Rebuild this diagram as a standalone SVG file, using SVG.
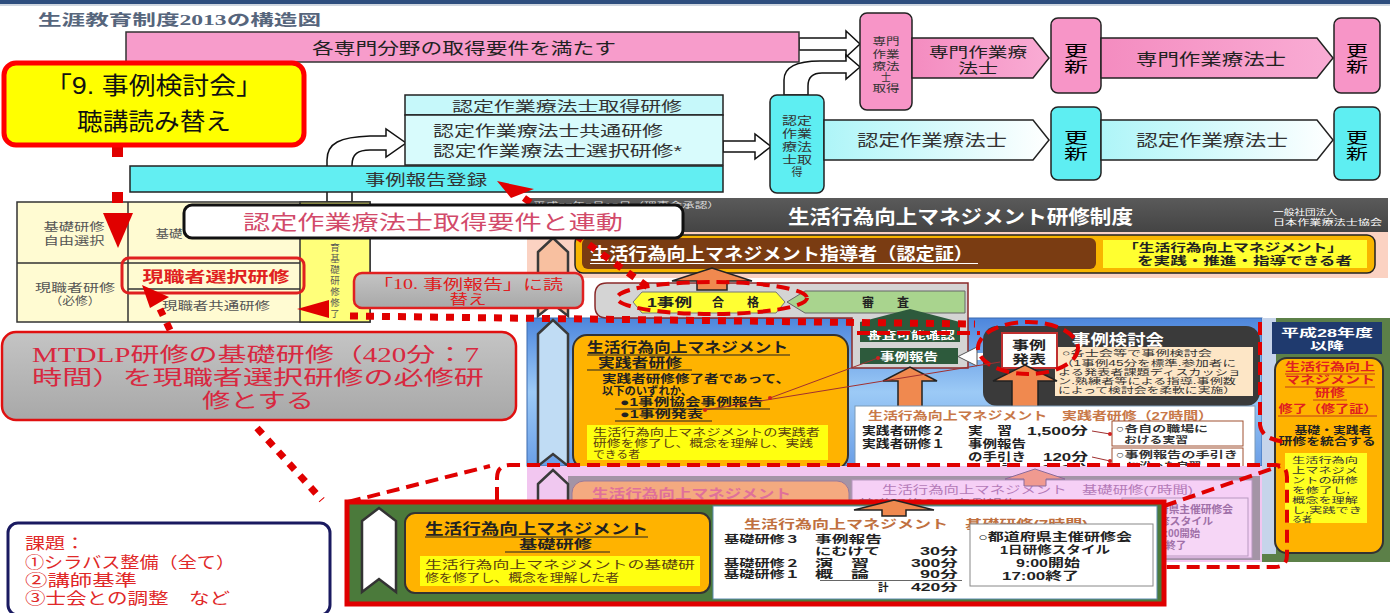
<svg xmlns="http://www.w3.org/2000/svg" width="1390" height="613" viewBox="0 0 1390 613">
<defs>
<style>
text{font-family:"Liberation Sans","Noto Sans CJK JP",sans-serif}
.b{font-weight:bold}
.sf{font-family:"Liberation Serif","Noto Sans CJK JP",serif}
.m{text-anchor:middle}
.e{text-anchor:end}
.pk{fill:#f795c7;stroke:#222;stroke-width:1.5}
.cy{fill:#5eeef2;stroke:#222;stroke-width:1.5}
.wa{fill:#fff;stroke:#111;stroke-width:1.5}
.dots{fill:none;stroke:#e00000;stroke-width:7;stroke-dasharray:8 8}
.dash{fill:none;stroke:#e00000;stroke-width:4;stroke-dasharray:13 7}
.org{fill:#ffb300;stroke:#333;stroke-width:2}
.ua{fill:#f0894f;stroke:#222;stroke-width:1.5}
.rib{stroke:#3a3a3a;stroke-width:2.5}
</style>
<linearGradient id="cyg" x1="0" x2="1" y1="0" y2="0"><stop offset="0" stop-color="#aef5f8"/><stop offset="1" stop-color="#ffffff"/></linearGradient>
<linearGradient id="pkg" x1="0" x2="1" y1="0" y2="0"><stop offset="0" stop-color="#f48cc0"/><stop offset="1" stop-color="#f9acd4"/></linearGradient>
<linearGradient id="blueg" x1="0" y1="0" x2="0" y2="1"><stop offset="0" stop-color="#4d86dc"/><stop offset="0.5" stop-color="#9ccaf6"/><stop offset="1" stop-color="#6a9ee6"/></linearGradient>
<linearGradient id="grayg" x1="0" y1="0" x2="0" y2="1"><stop offset="0" stop-color="#c4c4c4"/><stop offset="1" stop-color="#a8a8a8"/></linearGradient>
<linearGradient id="hdg" x1="0" y1="0" x2="0" y2="1"><stop offset="0" stop-color="#5a5a5a"/><stop offset="1" stop-color="#444"/></linearGradient>
</defs>
<rect width="1390" height="613" fill="#fff"/>

<g id="title">
<rect x="0" y="0" width="1390" height="4" fill="#2e4e7e"/>
<rect x="0" y="4" width="1390" height="2" fill="#cfd6e0"/>
<text x="38" y="25" font-size="15" class="sf b" fill="#56657c" textLength="283" lengthAdjust="spacingAndGlyphs">生涯教育制度2013の構造図</text>
</g>

<g id="connectors">
<path class="wa" d="M327 202 V160 C327 143 340 137 370 136 H386 V129 L406 143 L386 157 V150 H370 C358 150 352 154 352 165 V202 Z"/>
<path class="wa" d="M799 38 H846 V31 L860 44 L846 57 V50 H799 Z"/>
<path class="wa" d="M784 95 V80 C784 66 800 61 820 61 H846 V55 L860 67 L846 79 V73 H822 C812 73 808 78 808 86 V95 Z"/>
<path class="wa" d="M723 141 H755 V134 L771 146.5 L755 159 V152 H723 Z"/>
</g>

<g id="pink-bar">
<rect x="126" y="32" width="673" height="30" fill="#f79ccb" stroke="#333" stroke-width="1.5"/>
<text x="312" y="54" font-size="16" fill="#222" textLength="304" lengthAdjust="spacingAndGlyphs">各専門分野の取得要件を満たす</text>
</g>

<g id="senmon-shutoku">
<rect x="860" y="13" width="52" height="97" rx="7" class="pk"/>
<g font-size="10" fill="#333" class="m">
<text x="886" y="45" textLength="27" lengthAdjust="spacingAndGlyphs">専門</text>
<text x="886" y="58" textLength="27" lengthAdjust="spacingAndGlyphs">作業</text>
<text x="886" y="70" textLength="27" lengthAdjust="spacingAndGlyphs">療法</text>
<text x="886" y="81">士</text>
<text x="886" y="92" textLength="27" lengthAdjust="spacingAndGlyphs">取得</text>
</g>
</g>
<g id="senmon-1">
<polygon points="912,38 1033,38 1049,58 1033,78 912,78" fill="url(#pkg)" stroke="#222" stroke-width="1.5"/>
<text x="978" y="57" font-size="14" class="m" fill="#222" textLength="98" lengthAdjust="spacingAndGlyphs">専門作業療</text>
<text x="978" y="73" font-size="14" class="m" fill="#222" textLength="40" lengthAdjust="spacingAndGlyphs">法士</text>
</g>
<g id="koshin-p1">
<rect x="1051" y="18" width="50" height="75" rx="7" class="pk"/>
<text x="1076" y="56" font-size="15" class="m" textLength="24" lengthAdjust="spacingAndGlyphs">更</text>
<text x="1076" y="72" font-size="15" class="m" textLength="24" lengthAdjust="spacingAndGlyphs">新</text>
</g>
<g id="senmon-2">
<polygon points="1101,38 1317,38 1333,58 1317,78 1101,78" fill="url(#pkg)" stroke="#222" stroke-width="1.5"/>
<text x="1211" y="65" font-size="16" class="m" fill="#222" textLength="150" lengthAdjust="spacingAndGlyphs">専門作業療法士</text>
</g>
<g id="koshin-p2">
<rect x="1334" y="18" width="46" height="75" rx="7" class="pk"/>
<text x="1357" y="56" font-size="15" class="m" textLength="22" lengthAdjust="spacingAndGlyphs">更</text>
<text x="1357" y="72" font-size="15" class="m" textLength="22" lengthAdjust="spacingAndGlyphs">新</text>
</g>

<g id="nintei-shutoku">
<rect x="770" y="95" width="54" height="98" rx="7" class="cy"/>
<g font-size="11" fill="#333" class="m">
<text x="797" y="125" textLength="30" lengthAdjust="spacingAndGlyphs">認定</text>
<text x="797" y="138" textLength="30" lengthAdjust="spacingAndGlyphs">作業</text>
<text x="797" y="151" textLength="30" lengthAdjust="spacingAndGlyphs">療法</text>
<text x="797" y="164" textLength="30" lengthAdjust="spacingAndGlyphs">士取</text>
<text x="797" y="176">得</text>
</g>
</g>
<g id="nintei-1">
<polygon points="824,120 1033,120 1049,140 1033,160 824,160" fill="url(#cyg)" stroke="#222" stroke-width="1.5"/>
<text x="857" y="146" font-size="16" fill="#333" textLength="150" lengthAdjust="spacingAndGlyphs">認定作業療法士</text>
</g>
<g id="koshin-c1">
<rect x="1051" y="107" width="50" height="73" rx="7" class="cy"/>
<text x="1076" y="143" font-size="15" class="m" textLength="24" lengthAdjust="spacingAndGlyphs">更</text>
<text x="1076" y="159" font-size="15" class="m" textLength="24" lengthAdjust="spacingAndGlyphs">新</text>
</g>
<g id="nintei-2">
<polygon points="1101,120 1317,120 1333,140 1317,160 1101,160" fill="url(#cyg)" stroke="#222" stroke-width="1.5"/>
<text x="1136" y="146" font-size="16" fill="#333" textLength="152" lengthAdjust="spacingAndGlyphs">認定作業療法士</text>
</g>
<g id="koshin-c2">
<rect x="1334" y="107" width="46" height="73" rx="7" class="cy"/>
<text x="1357" y="143" font-size="15" class="m" textLength="22" lengthAdjust="spacingAndGlyphs">更</text>
<text x="1357" y="159" font-size="15" class="m" textLength="22" lengthAdjust="spacingAndGlyphs">新</text>
</g>

<g id="nintei-kenshu">
<rect x="405" y="95" width="318" height="20" fill="#c6f8fa" stroke="#222" stroke-width="1.5"/>
<rect x="405" y="115" width="318" height="50" fill="#d8fbfc" stroke="#222" stroke-width="1.5"/>
<text x="452" y="111" font-size="14" fill="#333" textLength="230" lengthAdjust="spacingAndGlyphs">認定作業療法士取得研修</text>
<text x="433" y="136" font-size="15" fill="#333" textLength="230" lengthAdjust="spacingAndGlyphs">認定作業療法士共通研修</text>
<text x="433" y="156" font-size="15" fill="#333" textLength="249" lengthAdjust="spacingAndGlyphs">認定作業療法士選択研修*</text>
</g>
<g id="jirei-toroku">
<rect x="130" y="166" width="593" height="26" fill="#62eef2" stroke="#222" stroke-width="1.5"/>
<text x="365" y="185" font-size="15" fill="#333" textLength="122" lengthAdjust="spacingAndGlyphs">事例報告登録</text>
</g>

<g id="mtdlp-header">
<rect x="527" y="198" width="861" height="34" fill="url(#hdg)"/>
<text x="533" y="208" font-size="8" fill="#ddd" textLength="187" lengthAdjust="spacingAndGlyphs">平成27年3月19日（理事会承認）</text>
<text x="788" y="224" font-size="19" class="b" fill="#fff" textLength="345" lengthAdjust="spacingAndGlyphs">生活行為向上マネジメント研修制度</text>
<text x="1273" y="215" font-size="8" fill="#fff" textLength="64" lengthAdjust="spacingAndGlyphs">一般社団法人</text>
<text x="1273" y="225" font-size="8" fill="#fff" textLength="109" lengthAdjust="spacingAndGlyphs">日本作業療法士協会</text>
</g>
<g id="shidosha">
<rect x="527" y="232" width="861" height="46" fill="#fbd2c2"/>
<rect x="575" y="235" width="800" height="38" rx="8" fill="#f8b500" stroke="#222" stroke-width="1.5"/>
<rect x="582" y="238" width="514" height="31" rx="6" fill="#7a3c12"/>
<text x="590" y="260" font-size="17" class="b" fill="#fff" textLength="383" lengthAdjust="spacingAndGlyphs">生活行為向上マネジメント指導者（認定証）</text>
<line x1="590" y1="263.5" x2="978" y2="263.5" stroke="#fff" stroke-width="1"/>
<rect x="1103" y="240" width="264" height="28" fill="#ffff30"/>
<text x="1123" y="252" font-size="11.5" class="b" fill="#222" textLength="220" lengthAdjust="spacingAndGlyphs">「生活行為向上マネジメント」</text>
<text x="1137" y="265" font-size="11.5" class="b" fill="#222" textLength="215" lengthAdjust="spacingAndGlyphs">を実践・推進・指導できる者</text>
</g>
<rect x="527" y="278" width="861" height="40" fill="#fff"/>
<g id="ribbons">
<path class="rib" fill="#f8c0a0" d="M538 252 L553 238 L568 252 V316 L553 304 L538 316 Z"/>
</g>

<g id="jissen-section">
<rect x="527" y="318" width="735" height="148" fill="url(#blueg)" stroke="#3a6ab0" stroke-width="1"/>
<path class="rib" fill="#c0dcf4" d="M538 334 L553 320 L568 334 V466 L553 454 L538 466 Z"/>
<rect x="573" y="335" width="275" height="134" rx="14" class="org"/>
<text x="587" y="352" font-size="14" class="b" fill="#222" textLength="201" lengthAdjust="spacingAndGlyphs">生活行為向上マネジメント</text>
<line x1="587" y1="355" x2="790" y2="355" stroke="#222" stroke-width="1.2"/>
<text x="598" y="367" font-size="13" class="b" fill="#222" textLength="84" lengthAdjust="spacingAndGlyphs">実践者研修</text>
<line x1="587" y1="370" x2="692" y2="370" stroke="#222" stroke-width="1.2"/>
<text x="602" y="383" font-size="11" class="b" fill="#222" textLength="188" lengthAdjust="spacingAndGlyphs">実践者研修修了者であって、</text>
<text x="602" y="395" font-size="11" class="b" fill="#222" textLength="90" lengthAdjust="spacingAndGlyphs">以下のいずれか、</text>
<text x="620" y="406" font-size="11" class="b" fill="#222" textLength="143" lengthAdjust="spacingAndGlyphs">●1事例協会事例報告</text>
<line x1="615" y1="409" x2="770" y2="409" stroke="#222" stroke-width="1"/>
<text x="620" y="418" font-size="11" class="b" fill="#222" textLength="83" lengthAdjust="spacingAndGlyphs">●1事例発表</text>
<line x1="615" y1="421" x2="712" y2="421" stroke="#222" stroke-width="1"/>
<rect x="587" y="425" width="241" height="35" fill="#ffff10"/>
<text x="593" y="436" font-size="10" fill="#5a4010" textLength="227" lengthAdjust="spacingAndGlyphs">生活行為向上マネジメントの実践者</text>
<text x="593" y="447" font-size="10" fill="#5a4010" textLength="220" lengthAdjust="spacingAndGlyphs">研修を修了し、概念を理解し、実践</text>
<text x="593" y="458" font-size="10" fill="#5a4010" textLength="47" lengthAdjust="spacingAndGlyphs">できる者</text>
</g>

<g id="shinsa">
<path d="M607 283 H968 V368 H852 V318 H607 Q595 318 595 306 V295 Q595 283 607 283 Z" fill="#d4d4d4" stroke="#8a2a2a" stroke-width="1.5"/>
<polygon points="633,302 642,292 776,292 785,302 776,313 642,313" fill="#ffff33" stroke="#777"/>
<text x="647" y="307" font-size="12" class="b" fill="#222" textLength="45" lengthAdjust="spacingAndGlyphs">1事例</text>
<text x="712" y="307" font-size="12" class="b" fill="#222">合</text>
<text x="747" y="307" font-size="12" class="b" fill="#222">格</text>
<polygon points="787,302 805,291 965,291 965,313 805,313" fill="#a9d48e" stroke="#666"/>
<text x="862" y="307" font-size="12" class="b" fill="#222">審</text>
<text x="897" y="307" font-size="12" class="b" fill="#222">査</text>
<polygon points="860,322 910,309 960,322 960,342 860,342" fill="#2d5a3c"/>
<text x="867" y="339" font-size="10" class="b" fill="#fff" textLength="88" lengthAdjust="spacingAndGlyphs">審査可能確認</text>
<rect x="860" y="348" width="98" height="16" fill="#2d5a3c"/>
<text x="880" y="361" font-size="11" class="b" fill="#fff" textLength="58" lengthAdjust="spacingAndGlyphs">事例報告</text>
<rect x="975" y="353" width="20" height="7" fill="#fff"/>
<polygon points="958,356.5 977,347 977,366" fill="#fff" stroke="#555"/>
</g>

<g id="jirei-kentokai">
<rect x="983" y="326" width="277" height="80" rx="14" fill="#3a3a3a"/>
<text x="1072" y="345" font-size="15" class="b" fill="#fff" textLength="92" lengthAdjust="spacingAndGlyphs">事例検討会</text>
<rect x="1055" y="347" width="198" height="49" fill="#fde6c6"/>
<g font-size="8.5" fill="#333">
<text x="1062" y="356" textLength="150" lengthAdjust="spacingAndGlyphs">○各士会等で事例検討会</text>
<text x="1060" y="365.5" textLength="176" lengthAdjust="spacingAndGlyphs">（1事例45分を標準.参加者に</text>
<text x="1058" y="375" textLength="183" lengthAdjust="spacingAndGlyphs">よる発表者課題ディスカッショ</text>
<text x="1058" y="384" textLength="178" lengthAdjust="spacingAndGlyphs">ン.熟練者等による指導.事例数</text>
<text x="1058" y="393" textLength="178" lengthAdjust="spacingAndGlyphs">によって検討会を柔軟に実施）</text>
</g>
<rect x="1002" y="333" width="55" height="35" fill="#fff" stroke="#c03030" stroke-width="2"/>
<text x="1029" y="350" font-size="12.5" class="b m" fill="#222" textLength="34" lengthAdjust="spacingAndGlyphs">事例</text>
<text x="1029" y="364" font-size="12.5" class="b m" fill="#222" textLength="34" lengthAdjust="spacingAndGlyphs">発表</text>
</g>

<g id="up-arrows">
<polygon class="ua" points="898,408 898,381 883,381 910,367 937,381 922,381 922,408"/>
<polygon class="ua" points="1012,407 1012,381 993,381 1025,365 1057,381 1038,381 1038,407"/>
<polygon class="ua" points="697,290 697,281 672,281 712,268 752,281 727,281 727,290"/>
</g>

<g id="jissen-27h">
<rect x="855" y="406" width="400" height="66" fill="#fff" stroke="#7a9ab8"/>
<text x="868" y="420" font-size="11.5" class="b" fill="#c87848" textLength="345" lengthAdjust="spacingAndGlyphs">生活行為向上マネジメント　実践者研修（27時間）</text>
<g font-size="11" class="b" fill="#222">
<text x="862" y="435" textLength="83" lengthAdjust="spacingAndGlyphs">実践者研修２</text>
<text x="968" y="435" textLength="44" lengthAdjust="spacingAndGlyphs">実　習</text>
<text x="1088" y="435" class="e" textLength="61" lengthAdjust="spacingAndGlyphs">1,500分</text>
<text x="862" y="448" textLength="83" lengthAdjust="spacingAndGlyphs">実践者研修１</text>
<text x="968" y="448" textLength="58" lengthAdjust="spacingAndGlyphs">事例報告</text>
<text x="968" y="461" textLength="58" lengthAdjust="spacingAndGlyphs">の手引き</text>
<text x="1088" y="461" class="e" textLength="45" lengthAdjust="spacingAndGlyphs">120分</text>
<text x="1002" y="473">計</text>
<text x="1088" y="473" class="e" textLength="61" lengthAdjust="spacingAndGlyphs">1,620分</text>
</g>
<rect x="1112" y="421" width="131" height="25" fill="#fff" stroke="#a05030"/>
<rect x="1112" y="448" width="131" height="24" fill="#fff" stroke="#a05030"/>
<g font-size="9.5" class="b" fill="#333">
<text x="1116" y="432" textLength="92" lengthAdjust="spacingAndGlyphs">○各自の職場に</text>
<text x="1124" y="443" textLength="64" lengthAdjust="spacingAndGlyphs">おける実習</text>
<text x="1116" y="458" textLength="122" lengthAdjust="spacingAndGlyphs">○事例報告の手引き</text>
<text x="1127" y="469" textLength="74" lengthAdjust="spacingAndGlyphs">に沿った自習</text>
</g>
<path d="M1092 431 L1110 434 M1092 457 L1110 461" stroke="#a03030" fill="none"/>
<circle cx="1110" cy="434" r="2" fill="#d02020"/><circle cx="1110" cy="461" r="2" fill="#d02020"/>
</g>

<g id="h28">
<rect x="1262" y="318" width="128" height="244" fill="#5c8048"/>
<rect x="1262" y="318" width="14" height="236" fill="#c6d4ea"/>
<rect x="1272" y="322" width="110" height="32" fill="#1f3a6e"/>
<text x="1327" y="337" font-size="11" class="b m" fill="#fff" textLength="92" lengthAdjust="spacingAndGlyphs">平成28年度</text>
<text x="1327" y="350" font-size="11" class="b m" fill="#fff" textLength="34" lengthAdjust="spacingAndGlyphs">以降</text>
<rect x="1275" y="358" width="108" height="195" rx="12" class="org"/>
<g class="b m" fill="#e02020" font-size="11">
<text x="1330" y="371" textLength="90" lengthAdjust="spacingAndGlyphs">生活行為向上</text>
<text x="1330" y="384" textLength="90" lengthAdjust="spacingAndGlyphs">マネジメント</text>
<text x="1330" y="397" textLength="30" lengthAdjust="spacingAndGlyphs">研修</text>
<text x="1328" y="413" textLength="99" lengthAdjust="spacingAndGlyphs">修了（修了証）</text>
</g>
<path d="M1285 374 H1375 M1285 387 H1375 M1313 400 H1347 M1278 416 H1377" stroke="#b02020" stroke-width="0.8"/>
<text x="1333" y="434" font-size="10" class="b m" fill="#222" textLength="77" lengthAdjust="spacingAndGlyphs">基礎・実践者</text>
<text x="1327" y="445" font-size="10" class="b m" fill="#222" textLength="97" lengthAdjust="spacingAndGlyphs">研修を統合する</text>
<rect x="1285" y="453" width="82" height="70" fill="#ffff20"/>
<g font-size="8.5" fill="#333">
<text x="1292" y="463" textLength="66" lengthAdjust="spacingAndGlyphs">生活行為向</text>
<text x="1292" y="473" textLength="66" lengthAdjust="spacingAndGlyphs">上マネジメ</text>
<text x="1292" y="483" textLength="66" lengthAdjust="spacingAndGlyphs">ントの研修</text>
<text x="1292" y="493" textLength="58" lengthAdjust="spacingAndGlyphs">を修了し,</text>
<text x="1292" y="503" textLength="66" lengthAdjust="spacingAndGlyphs">概念を理解</text>
<text x="1292" y="513" textLength="70" lengthAdjust="spacingAndGlyphs">し,実践でき</text>
<text x="1292" y="522" textLength="20" lengthAdjust="spacingAndGlyphs">る者</text>
</g>
</g>

<g id="kiso-original">
<rect x="527" y="466" width="735" height="96" fill="#f2c6f0"/>
<rect x="568" y="476" width="692" height="84" fill="#a494a6"/>
<path class="rib" fill="#f0c8f0" d="M538 484 L553 470 L568 484 V560 L553 548 L538 560 Z"/>
<rect x="572" y="481" width="277" height="80" rx="12" fill="#f4aa80" stroke="#9a7a9a"/>
<text x="592" y="498" font-size="13" class="b" fill="#e0709a" textLength="199" lengthAdjust="spacingAndGlyphs">生活行為向上マネジメント</text>
<rect x="852" y="480" width="400" height="78" fill="#f6d0f6" stroke="#b898c0"/>
<text x="882" y="494" font-size="11" fill="#b47ab8" textLength="311" lengthAdjust="spacingAndGlyphs">生活行為向上マネジメント　基礎研修(7時間)</text>
<text x="858" y="508" font-size="11" fill="#a070a0" textLength="160" lengthAdjust="spacingAndGlyphs">基礎研修３　事例報告</text>
<rect x="1122" y="498" width="126" height="58" fill="#f6d6f6" stroke="#b898c0"/>
<g font-size="10" fill="#a070a8" class="b">
<text x="1130" y="513" textLength="103" lengthAdjust="spacingAndGlyphs">○都道府県主催研修会</text>
<text x="1131" y="525" textLength="82" lengthAdjust="spacingAndGlyphs">1日研修スタイル</text>
<text x="1159" y="537" textLength="41" lengthAdjust="spacingAndGlyphs">9:00開始</text>
<text x="1140" y="549" textLength="46" lengthAdjust="spacingAndGlyphs">17:00終了</text>
</g>
<polygon points="1024,486 1024,479 1005,479 1035,469 1065,479 1046,479 1046,486" fill="#f09a90" stroke="#8a6a9a"/>
</g>

<g id="kiso-enlarged">
<rect x="347" y="502" width="817" height="102" fill="#4b7a3b" stroke="#e00000" stroke-width="5"/>
<path fill="#fff" stroke="#333" stroke-width="2.5" d="M362 521 L379 508 L396 521 V592 L379 579 L362 592 Z"/>
<rect x="405" y="513" width="305" height="80" rx="10" class="org"/>
<text x="425" y="534" font-size="14.5" class="b" fill="#222" textLength="223" lengthAdjust="spacingAndGlyphs">生活行為向上マネジメント</text>
<line x1="425" y1="537" x2="648" y2="537" stroke="#222" stroke-width="1.2"/>
<text x="519" y="549" font-size="12.5" class="b" fill="#222" textLength="73" lengthAdjust="spacingAndGlyphs">基礎研修</text>
<line x1="505" y1="552" x2="610" y2="552" stroke="#222" stroke-width="1.2"/>
<rect x="420" y="556" width="280" height="30" fill="#ffff10"/>
<text x="425" y="569" font-size="11.5" fill="#5a4010" textLength="270" lengthAdjust="spacingAndGlyphs">生活行為向上マネジメントの基礎研</text>
<text x="425" y="582" font-size="11.5" fill="#5a4010" textLength="194" lengthAdjust="spacingAndGlyphs">修を修了し、概念を理解した者</text>
<rect x="713" y="506" width="444" height="93" fill="#fff" stroke="#5a8ab0"/>
<text x="744" y="529" font-size="12" fill="#c07040" class="b" textLength="344" lengthAdjust="spacingAndGlyphs">生活行為向上マネジメント　基礎研修(7時間)</text>
<g font-size="10.5" class="b" fill="#222">
<text x="724" y="543" textLength="76" lengthAdjust="spacingAndGlyphs">基礎研修３</text>
<text x="815" y="543" textLength="67" lengthAdjust="spacingAndGlyphs">事例報告</text>
<text x="815" y="555" textLength="65" lengthAdjust="spacingAndGlyphs">にむけて</text>
<text x="958" y="555" class="e" textLength="38" lengthAdjust="spacingAndGlyphs">30分</text>
<text x="724" y="567" textLength="76" lengthAdjust="spacingAndGlyphs">基礎研修２</text>
<text x="815" y="567" textLength="54" lengthAdjust="spacingAndGlyphs">演　習</text>
<text x="958" y="567" class="e" textLength="47" lengthAdjust="spacingAndGlyphs">300分</text>
<text x="724" y="578" textLength="76" lengthAdjust="spacingAndGlyphs">基礎研修１</text>
<text x="815" y="578" textLength="54" lengthAdjust="spacingAndGlyphs">概　論</text>
<text x="958" y="578" class="e" textLength="38" lengthAdjust="spacingAndGlyphs">90分</text>
<text x="878" y="591">計</text>
<text x="958" y="591" class="e" textLength="47" lengthAdjust="spacingAndGlyphs">420分</text>
</g>
<line x1="820" y1="580.5" x2="962" y2="580.5" stroke="#666" stroke-width="1"/>
<rect x="970" y="524" width="183" height="62" fill="#fff" stroke="#888"/>
<g font-size="11" class="b" fill="#222">
<text x="978" y="541" textLength="154" lengthAdjust="spacingAndGlyphs">○都道府県主催研修会</text>
<text x="1000" y="554" textLength="110" lengthAdjust="spacingAndGlyphs">1日研修スタイル</text>
<text x="1016" y="567" textLength="64" lengthAdjust="spacingAndGlyphs">9:00開始</text>
<text x="1002" y="580" textLength="77" lengthAdjust="spacingAndGlyphs">17:00終了</text>
</g>
<polygon class="ua" points="882,516 882,510 854,510 894,500 934,510 906,510 906,516"/>
</g>

<g id="red-dashes">
<path class="dash" d="M497 500 V478 Q497 465 510 465 H1275 Q1287 465 1287 477 V555 Q1287 567 1275 567 H1165"/>
<path class="dash" d="M348 502 L490 466"/>
<path class="dash" d="M1164 506 L1280 466"/>
<path class="dash" d="M1260 322 V425 Q1262 440 1287 442"/>
<path class="dash" d="M857 333 H980"/>
<ellipse cx="1028" cy="348" rx="50" ry="26" class="dash"/>
<ellipse cx="712" cy="298" rx="95" ry="16" class="dash"/>
</g>

<g id="jissen-links">
<path d="M770 398 L878 358 M705 410 L1000 362" stroke="#a03030" stroke-width="1" fill="none"/>
<circle cx="770" cy="398" r="2" fill="#d02020"/><circle cx="705" cy="410" r="2" fill="#d02020"/><circle cx="878" cy="358" r="2" fill="#d02020"/>
</g>

<g id="kiso-table">
<rect x="17" y="202" width="353" height="120" fill="#fffbd2" stroke="#333" stroke-width="1.5"/>
<rect x="300" y="202" width="70" height="120" fill="#ffff7a" stroke="#333" stroke-width="1.5"/>
<path d="M128 202 V322 M17 263 H300 M128 289 H300" stroke="#333" stroke-width="1.5" fill="none"/>
<g font-size="11" fill="#555" class="m">
<text x="74" y="231" textLength="61" lengthAdjust="spacingAndGlyphs">基礎研修</text>
<text x="74" y="245" textLength="61" lengthAdjust="spacingAndGlyphs">自由選択</text>
<text x="75" y="292" textLength="80" lengthAdjust="spacingAndGlyphs">現職者研修</text>
<text x="75" y="305" textLength="51" lengthAdjust="spacingAndGlyphs">（必修）</text>
<text x="169" y="238" textLength="27" lengthAdjust="spacingAndGlyphs">基礎</text>
<text x="216" y="310" textLength="108" lengthAdjust="spacingAndGlyphs">現職者共通研修</text>
</g>
<text x="216" y="282" font-size="15" class="b m" fill="#e02020" textLength="147" lengthAdjust="spacingAndGlyphs">現職者選択研修</text>
<g font-size="9.5" fill="#555" class="m">
<text x="335" y="251">育</text><text x="335" y="262">基</text><text x="335" y="273">礎</text><text x="335" y="284">研</text><text x="335" y="295">修</text><text x="335" y="306">修</text><text x="335" y="317">了</text>
</g>
<rect x="122" y="258" width="182" height="35" rx="7" fill="none" stroke="#e02020" stroke-width="3"/>
</g>

<g id="red-links">
<path class="dots" d="M350 316 L975 324"/>
<path class="dots" d="M524 198 L648 287"/>
<path class="dots" d="M257 428 L322 500"/>
<path class="dots" d="M170 330 L160 309"/>
<rect x="112" y="147" width="11" height="10" fill="#e00000"/>
<rect x="112" y="192" width="11" height="11" fill="#e00000"/>
<polygon points="103,213 133,213 118,248" fill="#e00000"/>
<polygon points="142,285 169,297 150,308" fill="#e00000"/>
<polygon points="297,309 329,300 329,318" fill="#e00000"/>
<polygon points="497,181 534,189 511,198" fill="#e00000"/>
</g>

<g id="callout-9">
<rect x="4" y="63" width="300" height="82" rx="12" fill="#ffff00" stroke="#ff0000" stroke-width="5"/>
<text x="154" y="94" font-size="24" class="m" fill="#111" textLength="218" lengthAdjust="spacingAndGlyphs">「9. 事例検討会」</text>
<text x="154" y="130" font-size="24" class="m" fill="#111" textLength="154" lengthAdjust="spacingAndGlyphs">聴講読み替え</text>
</g>

<g id="callout-rendo">
<rect x="184" y="205" width="499" height="33" rx="8" fill="#fff" stroke="#111" stroke-width="3"/>
<text x="243" y="230" font-size="20" fill="#d24a6a" textLength="380" lengthAdjust="spacingAndGlyphs">認定作業療法士取得要件と連動</text>
</g>

<g id="callout-10">
<rect x="354" y="273" width="229" height="35" rx="8" fill="url(#grayg)" stroke="#e02020" stroke-width="2.5"/>
<text x="373" y="289" font-size="14" class="sf" fill="#e02020" textLength="190" lengthAdjust="spacingAndGlyphs">「10. 事例報告」に読</text>
<text x="468" y="304" font-size="14" class="sf m" fill="#e02020" textLength="37" lengthAdjust="spacingAndGlyphs">替え</text>
</g>

<g id="callout-mtdlp">
<rect x="2" y="332" width="514" height="88" rx="14" fill="url(#grayg)" stroke="#e01010" stroke-width="2.5"/>
<text x="32" y="362" font-size="20" class="sf" fill="#d82840" textLength="447" lengthAdjust="spacingAndGlyphs">MTDLP研修の基礎研修（420分：7</text>
<text x="32" y="385" font-size="20" class="sf" fill="#d82840" textLength="452" lengthAdjust="spacingAndGlyphs">時間）を現職者選択研修の必修研</text>
<text x="202" y="408" font-size="20" class="sf" fill="#d82840" textLength="112" lengthAdjust="spacingAndGlyphs">修とする</text>
</g>

<g id="kadai">
<rect x="8" y="523" width="322" height="92" rx="10" fill="#fff" stroke="#1a1a60" stroke-width="3"/>
<g font-size="16" class="sf" fill="#e02828">
<text x="25" y="549" textLength="60" lengthAdjust="spacingAndGlyphs">課題：</text>
<text x="25" y="568" textLength="210" lengthAdjust="spacingAndGlyphs">①シラバス整備（全て）</text>
<text x="25" y="586" textLength="112" lengthAdjust="spacingAndGlyphs">②講師基準</text>
<text x="25" y="604" textLength="205" lengthAdjust="spacingAndGlyphs">③士会との調整　など</text>
</g>
</g>
</svg>
